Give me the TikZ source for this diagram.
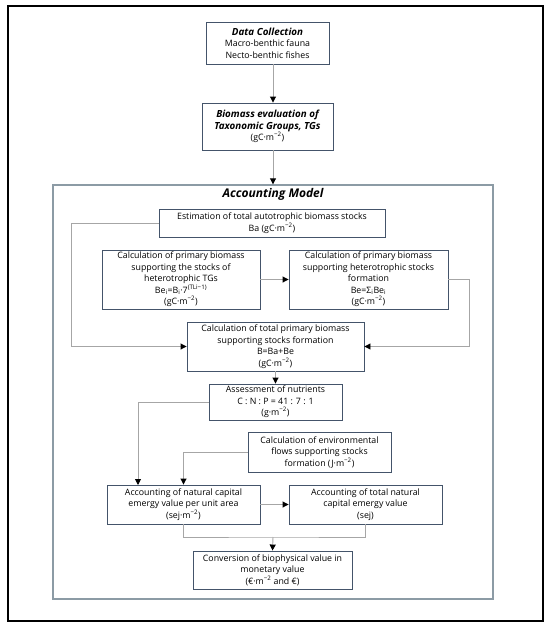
\documentclass[tikz,border=0pt]{standalone}
\usepackage{fontspec}
\setmainfont{Open Sans}
\usetikzlibrary{arrows.meta}
\definecolor{boxc}{HTML}{44546A}
\definecolor{linec}{HTML}{A6A6A6}
\definecolor{amc}{HTML}{8C9BA5}
\newcommand{\hd}[1]{{\fontsize{9.8}{11.5}\selectfont\bfseries\itshape #1}}
\begin{document}
\begin{tikzpicture}[x=1pt,y=-1pt,
  box/.style={draw=boxc, line width=0.9pt, align=center, inner sep=0pt, fill=white,
    font=\fontsize{8.8}{11.5}\selectfont},
  conn/.style={draw=linec, line width=0.9pt},
  arr/.style={conn, -{Triangle[width=6pt,length=6pt,color=black]}}]
\useasboundingbox (0,0) rectangle (550,627);
\draw[line width=2pt, black] (8,6) rectangle (543,621);
\node[box, minimum width=123pt, minimum height=42pt] (dc) at (267.5,43)
  {\hd{Data Collection}\\Macro-benthic fauna\\Necto-benthic fishes};
\node[box, minimum width=131pt, minimum height=47pt] (bio) at (267.5,126.5)
  {\hd{Biomass evaluation of}\\\hd{Taxonomic Groups, TGs}\\(gC·m\textsuperscript{−2})};
\node[draw=amc, line width=1.4pt, minimum width=440pt, minimum height=414pt, inner sep=0pt] (am) at (273,392) {};
\node[font=\fontsize{12}{14}\selectfont\bfseries\itshape] (amt) at (273,194) {Accounting Model};
\node[box, minimum width=226pt, minimum height=28pt] (est) at (272,223)
  {Estimation of total autotrophic biomass stocks\\Ba (gC·m\textsuperscript{−2})};
\node[box, minimum width=158pt, minimum height=59pt] (c1) at (181,279.5)
  {Calculation of primary biomass\\supporting the stocks of\\heterotrophic TGs\\Be\textsubscript{i}=B\textsubscript{i}·7\textsuperscript{(TLi−1)}\\(gC·m\textsuperscript{−2})};
\node[box, minimum width=159pt, minimum height=59pt] (c2) at (368.5,279.5)
  {Calculation of primary biomass\\supporting heterotrophic stocks\\formation\\Be=Σ\textsubscript{i}Be\textsubscript{i}\\(gC·m\textsuperscript{−2})};
\node[box, minimum width=177pt, minimum height=49pt] (tot) at (275.5,346.5)
  {Calculation of total primary biomass\\supporting stocks formation\\B=Ba+Be\\(gC·m\textsuperscript{−2})};
\node[box, minimum width=133pt, minimum height=36pt] (nut) at (275.5,402)
  {Assessment of nutrients\\C : N : P = 41 : 7 : 1\\(g·m\textsuperscript{−2})};
\node[box, minimum width=143pt, minimum height=40pt] (env) at (319.5,452)
  {Calculation of environmental\\flows supporting stocks\\formation (J·m\textsuperscript{−2})};
\node[box, minimum width=153pt, minimum height=39pt] (a1) at (183.5,504.5)
  {Accounting of natural capital\\emergy value per unit area\\(sej·m\textsuperscript{−2})};
\node[box, minimum width=153pt, minimum height=39pt] (a2) at (365.5,504.5)
  {Accounting of total natural\\capital emergy value\\(sej)};
\node[box, minimum width=159pt, minimum height=38pt] (conv) at (272.5,570)
  {Conversion of biophysical value in\\monetary value\\(€·m\textsuperscript{−2} and €)};
\coordinate (pn) at (138,485);
\coordinate (m) at (273,537);
% connectors
\draw[arr] (dc.south -| am.north) -- (bio.north -| am.north);
\draw[arr] (bio.south -| am.north) -- (am.north);
\draw[arr] (est.west) -- ++(-87,0) |- (tot.west);
\draw[arr] (c1.east) -- (c2.west);
\draw[arr] (c2.east) -- ++(21,0) |- (tot.east);
\draw[arr] (tot.south) -- (nut.north);
\draw[arr] (nut.west) -| (pn);
\draw[arr] (env.west) -| (a1.north);
\draw[arr] (a1.east) -- (a2.west);
\draw[conn] (a1.south) |- (m) -| (a2.south);
\draw[arr] (m) -- (conv.north);
\end{tikzpicture}
\end{document}
